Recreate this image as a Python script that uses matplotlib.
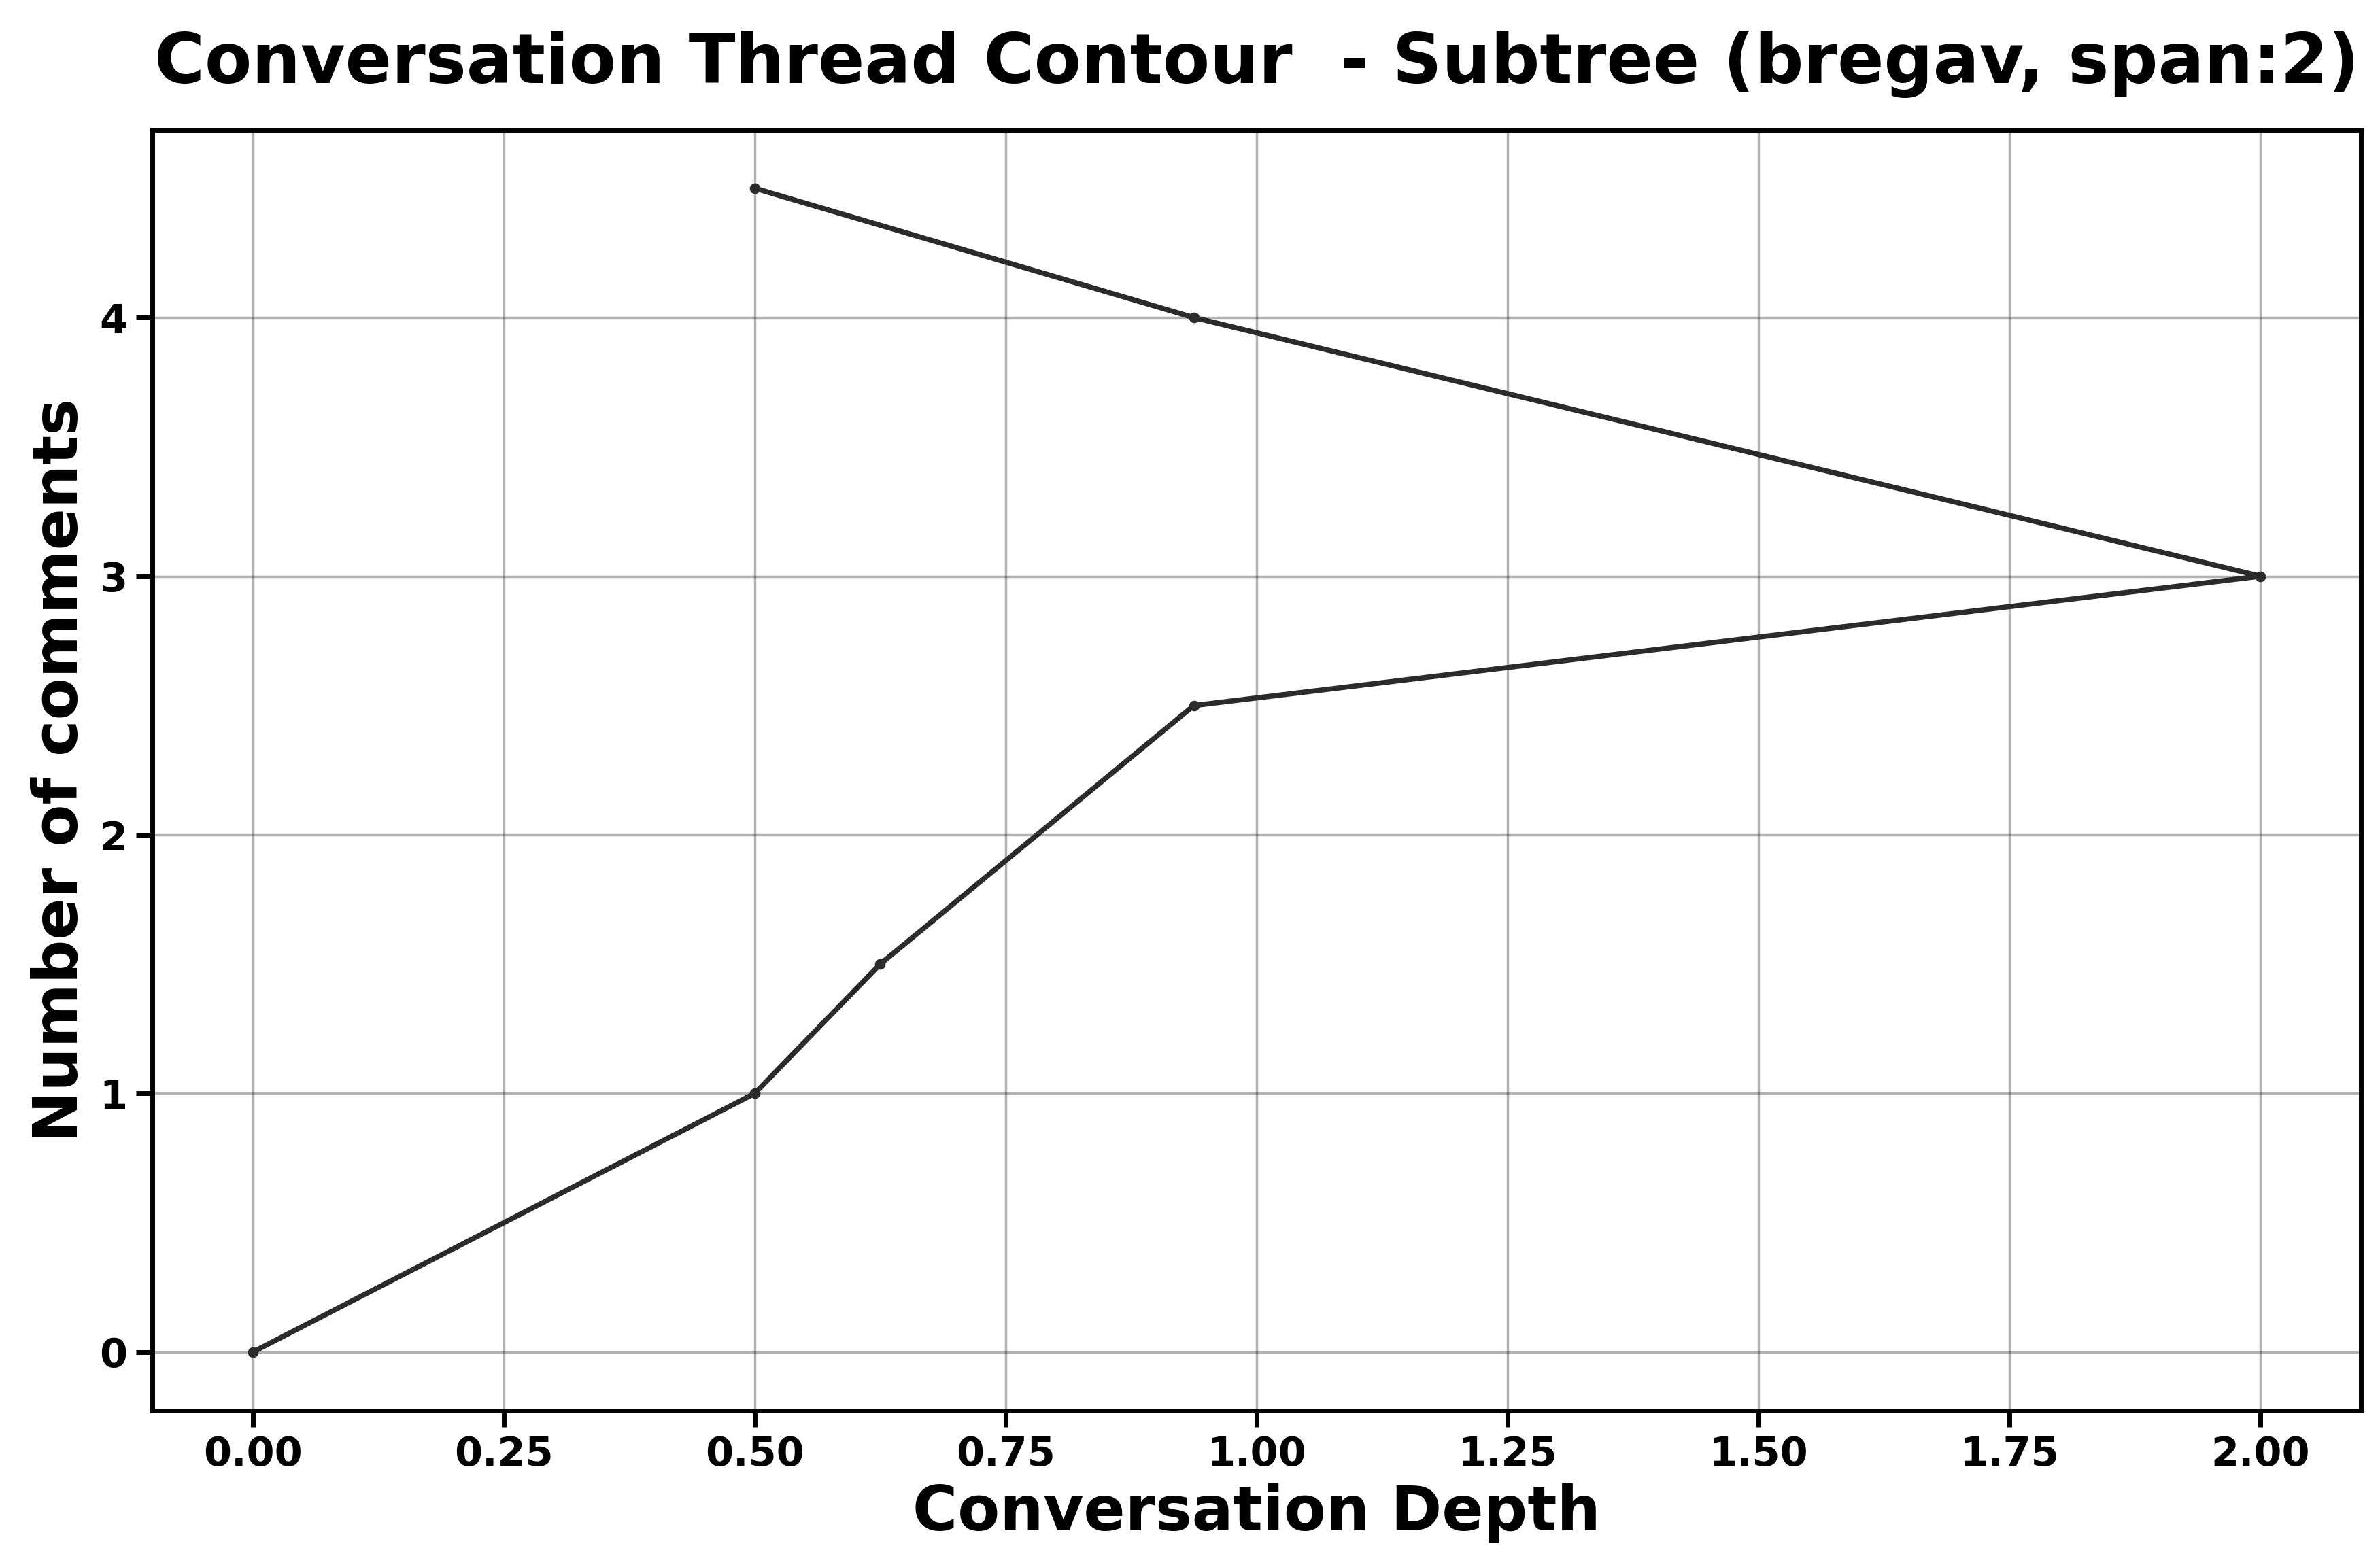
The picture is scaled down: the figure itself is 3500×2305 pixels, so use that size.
import matplotlib
matplotlib.use("Agg")
import matplotlib.pyplot as plt

depth = [0.0, 0.5, 0.625, 0.9375, 2.0, 0.9375, 0.5]
comments = [0, 1, 1.5, 2.5, 3, 4, 4.5]

fig, ax = plt.subplots(figsize=(14, 9.22), dpi=250)
ax.plot(depth, comments, color="#2b2b2b", lw=2.2, marker="o", markersize=3.5)
ax.grid(True, color="black", alpha=0.3, lw=1)
ax.set_xticks([0, 0.25, 0.5, 0.75, 1.0, 1.25, 1.5, 1.75, 2.0])
ax.set_yticks([0, 1, 2, 3, 4])
ax.tick_params(labelsize=17, width=2, length=7)
for lab in ax.get_xticklabels() + ax.get_yticklabels():
    lab.set_fontweight("bold")
for s in ax.spines.values():
    s.set_linewidth(2)
ax.set_xlabel("Conversation Depth", fontsize=26, fontweight="bold")
ax.set_ylabel("Number of comments", fontsize=26, fontweight="bold")
ax.set_title("Conversation Thread Contour  - Subtree (bregav, span:2)",
             fontsize=29, fontweight="bold", pad=20)
fig.subplots_adjust(left=0.064, right=0.992, top=0.917, bottom=0.1)
fig.savefig("out.png")
